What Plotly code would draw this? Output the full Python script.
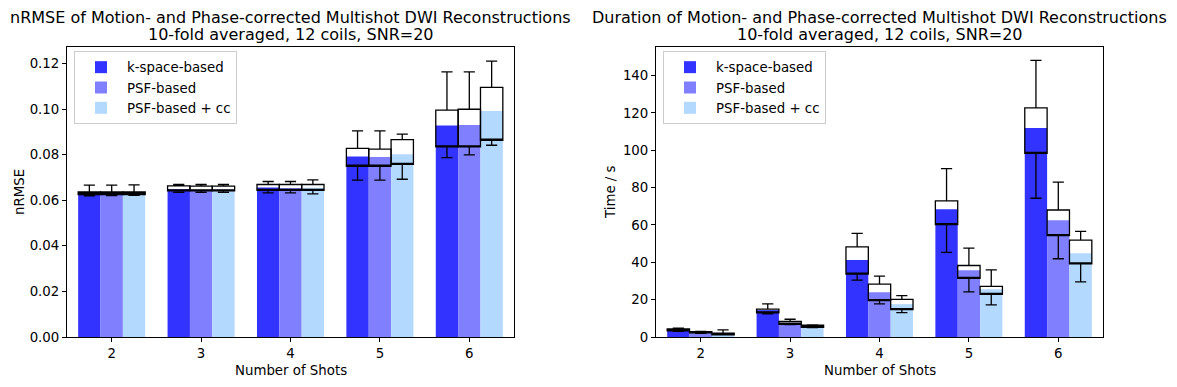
import plotly.graph_objects as go

W, H = 1177, 387


def px(xr):
    return xr / W


def py(yr):
    return 1 - yr / H


shots = [2, 3, 4, 5, 6]
methods = ["k-space-based", "PSF-based", "PSF-based + cc"]
colors = ["#3333ff", "#8080ff", "#b3d9ff"]
offsets = [-0.25, 0.0, 0.25]

# nRMSE
nrmse_mean = {
    "k-space-based": [0.0628, 0.0648, 0.0656, 0.0792, 0.0928],
    "PSF-based": [0.0628, 0.0646, 0.0654, 0.0790, 0.0930],
    "PSF-based + cc": [0.0628, 0.0648, 0.0655, 0.0802, 0.0991],
}
nrmse_q1 = {
    "k-space-based": [0.0625, 0.0641, 0.0643, 0.0749, 0.0834],
    "PSF-based": [0.0625, 0.0641, 0.0643, 0.0749, 0.0834],
    "PSF-based + cc": [0.0625, 0.0641, 0.0643, 0.0757, 0.0863],
}
nrmse_q3 = {
    "k-space-based": [0.0636, 0.0663, 0.0669, 0.0827, 0.0995],
    "PSF-based": [0.0636, 0.0662, 0.0669, 0.0824, 0.0999],
    "PSF-based + cc": [0.0636, 0.0662, 0.0669, 0.0866, 0.1095],
}
nrmse_lo = {
    "k-space-based": [0.0619, 0.0634, 0.0632, 0.0688, 0.0787],
    "PSF-based": [0.0620, 0.0634, 0.0632, 0.0688, 0.0799],
    "PSF-based + cc": [0.0621, 0.0634, 0.0628, 0.0692, 0.0841],
}
nrmse_hi = {
    "k-space-based": [0.0666, 0.0669, 0.0682, 0.0904, 0.1163],
    "PSF-based": [0.0666, 0.0669, 0.0682, 0.0904, 0.1163],
    "PSF-based + cc": [0.0667, 0.0669, 0.0689, 0.0890, 0.1210],
}

# Duration (s)
time_mean = {
    "k-space-based": [3.8, 14.4, 41.2, 68.4, 111.9],
    "PSF-based": [2.5, 7.6, 24.0, 35.8, 62.5],
    "PSF-based + cc": [1.6, 5.8, 17.6, 25.6, 44.9],
}
time_q1 = {
    "k-space-based": [3.3, 12.9, 33.7, 60.2, 98.3],
    "PSF-based": [2.2, 6.8, 19.5, 31.4, 54.3],
    "PSF-based + cc": [1.1, 5.2, 14.7, 22.8, 39.2],
}
time_q3 = {
    "k-space-based": [4.3, 14.9, 48.3, 72.9, 122.7],
    "PSF-based": [2.8, 8.3, 28.3, 38.3, 68.0],
    "PSF-based + cc": [2.1, 6.3, 20.1, 27.1, 51.9],
}
time_lo = {
    "k-space-based": [3.0, 12.4, 30.5, 45.3, 74.3],
    "PSF-based": [1.9, 6.6, 17.7, 24.2, 41.9],
    "PSF-based + cc": [1.1, 5.0, 13.1, 17.2, 29.5],
}
time_hi = {
    "k-space-based": [4.8, 17.7, 55.5, 90.2, 148.1],
    "PSF-based": [3.0, 9.5, 32.6, 47.6, 82.9],
    "PSF-based + cc": [3.8, 6.5, 22.2, 36.0, 56.6],
}

titles_l1 = ["nRMSE of Motion- and Phase-corrected Multishot DWI Reconstructions",
             "Duration of Motion- and Phase-corrected Multishot DWI Reconstructions"]
title_l2 = "10-fold averaged, 12 coils, SNR=20"
ylabels = ["nRMSE", "Time / s"]
xlabel = "Number of Shots"

FONT = "DejaVu Sans"
FS = 13.33
TFS = 16
fig = go.Figure()

panels = [
    ("x", "y", "legend", nrmse_mean, nrmse_q1, nrmse_q3, nrmse_lo, nrmse_hi),
    ("x2", "y2", "legend2", time_mean, time_q1, time_q3, time_lo, time_hi),
]
for xa, ya, lg, mean, q1, q3, lo, hi in panels:
    # white box backgrounds
    for m, off in zip(methods, offsets):
        xs = [s + off for s in shots]
        fig.add_trace(go.Bar(
            x=xs, y=[b - a for a, b in zip(q1[m], q3[m])], base=q1[m], width=0.25,
            marker=dict(color="white", line=dict(width=0)),
            showlegend=False, hoverinfo="skip", xaxis=xa, yaxis=ya))
    # mean bars
    for m, c, off in zip(methods, colors, offsets):
        xs = [s + off for s in shots]
        fig.add_trace(go.Bar(
            x=xs, y=mean[m], width=0.25, name=m,
            marker=dict(color=c, line=dict(width=0)),
            legend=lg, xaxis=xa, yaxis=ya))
    # box outlines and whiskers
    for m, off in zip(methods, offsets):
        xs = [s + off for s in shots]
        fig.add_trace(go.Box(
            x=xs, q1=q1[m], median=q1[m], q3=q3[m],
            lowerfence=lo[m], upperfence=hi[m], width=0.25, whiskerwidth=0.5,
            fillcolor="rgba(0,0,0,0)", line=dict(color="black", width=1.3),
            showlegend=False, hoverinfo="skip", xaxis=xa, yaxis=ya))

x0a, x1a = px(67), px(514)
x0b, x1b = px(656), px(1103)
y0, y1 = py(337), py(47)

axis_common = dict(showline=True, mirror=True, linecolor="black", linewidth=1,
                   ticks="outside", ticklen=4, tickcolor="black", showgrid=False,
                   zeroline=False, automargin=False,
                   tickfont=dict(family=FONT, size=FS, color="black"))

legend_common = dict(xanchor="left", yanchor="top", bgcolor="white",
                     bordercolor="#cccccc", borderwidth=1, itemwidth=42,
                     font=dict(family=FONT, size=FS, color="black"))

fig.update_layout(
    width=W, height=H, margin=dict(l=0, r=0, t=0, b=0, pad=0), autosize=False,
    paper_bgcolor="white", plot_bgcolor="white",
    barmode="overlay", boxmode="overlay",
    font=dict(family=FONT, size=FS, color="black"),
    xaxis=dict(domain=[x0a, x1a], range=[1.5, 6.5], tickvals=shots, anchor="y", **axis_common),
    yaxis=dict(domain=[y0, y1], range=[0, 0.1272], dtick=0.02, tickformat=".2f", anchor="x", **axis_common),
    xaxis2=dict(domain=[x0b, x1b], range=[1.5, 6.5], tickvals=shots, anchor="y2", **axis_common),
    yaxis2=dict(domain=[y0, y1], range=[0, 155.3], dtick=20, anchor="x2", **axis_common),
    legend=dict(x=px(74), y=py(51), **legend_common),
    legend2=dict(x=px(663), y=py(51), **legend_common),
)

ann = dict(xref="paper", yref="paper", showarrow=False, xanchor="center", yanchor="middle")
centers = [px((67 + 514) / 2), px((656 + 1103) / 2)]
for cx, t1, yl, ylx in zip(centers, titles_l1, ylabels, [19, 610]):
    fig.add_annotation(x=cx, y=py(17), text=t1, font=dict(family=FONT, size=TFS, color="black"), **ann)
    fig.add_annotation(x=cx, y=py(34.5), text=title_l2, font=dict(family=FONT, size=TFS, color="black"), **ann)
    fig.add_annotation(x=cx, y=py(370), text=xlabel, font=dict(family=FONT, size=FS, color="black"), **ann)
    fig.add_annotation(x=px(ylx), y=(y0 + y1) / 2, textangle=-90, text=yl,
                       font=dict(family=FONT, size=FS, color="black"), **ann)

# remove the browser's default page margin so the figure sits exactly in the window
fig.write_html("out.html", config={"displayModeBar": False},
               post_script="document.body.style.margin='0';"
               "document.documentElement.style.overflow='hidden';")
